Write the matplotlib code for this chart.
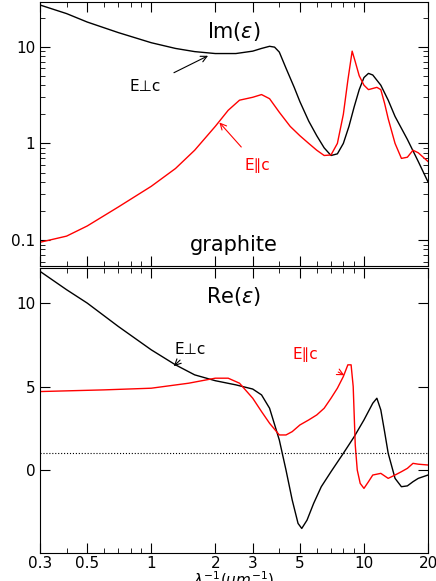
import numpy as np
import matplotlib.pyplot as plt
from matplotlib.ticker import FixedLocator, NullFormatter, FixedFormatter

# Im(eps)
im_perp_x = [0.3, 0.4, 0.5, 0.7, 1, 1.3, 1.6, 2, 2.5, 3, 3.3, 3.6, 3.8, 4.0, 4.3, 4.7, 5, 5.5, 6, 6.5, 7, 7.5, 8, 8.5, 9, 9.5, 10, 10.5, 11, 12, 13, 14, 16, 18, 20]
im_perp_y = [27, 22, 18, 14, 11, 9.6, 8.9, 8.5, 8.5, 9.0, 9.6, 10.1, 9.9, 8.8, 6.0, 3.8, 2.7, 1.7, 1.2, 0.9, 0.75, 0.78, 1.0, 1.5, 2.4, 3.6, 4.8, 5.3, 5.1, 4.0, 2.8, 1.9, 1.1, 0.65, 0.4]
im_par_x = [0.3, 0.4, 0.5, 0.7, 1, 1.3, 1.6, 2, 2.3, 2.6, 3, 3.3, 3.6, 4, 4.5, 5, 5.5, 6, 6.5, 7, 7.5, 8, 8.4, 8.8, 9.1, 9.5, 10, 10.5, 11.5, 12, 12.5, 13, 14, 15, 16, 17, 18, 20]
im_par_y = [0.095, 0.11, 0.14, 0.22, 0.36, 0.55, 0.85, 1.5, 2.2, 2.8, 3.0, 3.2, 2.9, 2.1, 1.5, 1.2, 1.0, 0.85, 0.75, 0.76, 1.0, 2.0, 4.5, 9.0, 7.0, 5.0, 4.0, 3.6, 3.8, 3.6, 2.6, 1.8, 1.0, 0.7, 0.72, 0.85, 0.8, 0.65]

# Re(eps)
re_perp_x = [0.3, 0.4, 0.5, 0.7, 1, 1.3, 1.6, 2, 2.5, 3, 3.3, 3.6, 4, 4.3, 4.6, 4.9, 5.1, 5.4, 5.8, 6.3, 7, 8, 9, 10, 11, 11.5, 12, 12.5, 13, 14, 15, 16, 17, 18, 20]
re_perp_y = [11.9, 10.8, 10, 8.6, 7.2, 6.3, 5.7, 5.35, 5.1, 4.85, 4.5, 3.7, 1.8, 0.0, -1.8, -3.2, -3.5, -3.0, -2.0, -1.0, -0.1, 1.0, 2.0, 3.0, 4.0, 4.3, 3.6, 2.3, 1.0, -0.5, -1.0, -0.95, -0.7, -0.5, -0.3]
re_par_x = [0.3, 0.6, 1, 1.5, 2, 2.3, 2.6, 3, 3.3, 3.6, 4, 4.3, 4.6, 5, 5.5, 6, 6.5, 7, 7.5, 8, 8.4, 8.7, 8.9, 9.1, 9.3, 9.6, 10, 10.5, 11, 12, 13, 14, 15, 16, 17, 18, 20]
re_par_y = [4.7, 4.8, 4.9, 5.2, 5.5, 5.5, 5.2, 4.3, 3.5, 2.8, 2.1, 2.1, 2.3, 2.7, 3.0, 3.3, 3.7, 4.3, 4.9, 5.6, 6.3, 6.3, 5.0, 1.5, 0.0, -0.8, -1.1, -0.7, -0.3, -0.2, -0.5, -0.3, -0.1, 0.1, 0.4, 0.35, 0.3]

xticks = [0.3, 0.5, 1, 2, 3, 5, 10, 20]
xlabels = ["0.3", "0.5", "1", "2", "3", "5", "10", "20"]

fig = plt.figure(figsize=(4.36, 5.81), dpi=100)
ax1 = fig.add_axes([40/436, 1 - 266/581, 388/436, 264/581])
ax2 = fig.add_axes([40/436, 1 - 553/581, 388/436, 285/581], sharex=ax1)

ax1.plot(im_perp_x, im_perp_y, c="black", lw=1)
ax1.plot(im_par_x, im_par_y, c="red", lw=1)
ax1.set_xscale("log")
ax1.set_yscale("log")
ax1.set_xlim(0.3, 20)
ax1.set_ylim(0.054, 29)
ax1.set_yticks([0.1, 1, 10])
ax1.set_yticklabels(["0.1", "1", "10"])
ax1.text(0.5, 0.93, r"Im($\epsilon$)", transform=ax1.transAxes, ha="center", va="top", fontsize=15)
ax1.text(0.5, 0.04, "graphite", transform=ax1.transAxes, ha="center", va="bottom", fontsize=15)
ax1.annotate("E⊥c", xy=(1.9, 8.3), xytext=(0.94, 3.85), fontsize=11, va="center", ha="center",
             arrowprops=dict(arrowstyle="->", color="black", lw=0.8, shrinkA=8))
ax1.annotate("E∥c", xy=(2.05, 1.73), xytext=(3.17, 0.59), color="red", fontsize=11, va="center", ha="center",
             arrowprops=dict(arrowstyle="->", color="red", lw=0.8, shrinkA=8))

ax2.plot(re_perp_x, re_perp_y, c="black", lw=1)
ax2.plot(re_par_x, re_par_y, c="red", lw=1)
ax2.axhline(1, c="black", ls=":", lw=0.8)
ax2.set_ylim(-4.97, 12.1)
ax2.set_yticks([0, 5, 10])
ax2.text(0.5, 0.94, r"Re($\epsilon$)", transform=ax2.transAxes, ha="center", va="top", fontsize=15)
ax2.annotate("E⊥c", xy=(1.25, 6.1), xytext=(1.53, 7.2), fontsize=11, va="center", ha="center",
             arrowprops=dict(arrowstyle="->", color="black", lw=0.8, shrinkA=10))
ax2.annotate("E∥c", xy=(8.3, 5.6), xytext=(5.3, 6.9), color="red", fontsize=11, va="center", ha="center",
             arrowprops=dict(arrowstyle="->", color="red", lw=0.8, shrinkA=14))
ax2.set_xlabel(r"$\lambda^{-1}(\mu m^{-1})$", fontsize=11, labelpad=-1)

for ax in (ax1, ax2):
    ax.tick_params(which="both", direction="in", top=True, right=True, labelsize=11)
    ax.tick_params(which="major", length=7)
    ax.tick_params(which="minor", length=3.5)
ax2.tick_params(axis="x", pad=2)
ax2.xaxis.set_major_locator(FixedLocator(xticks))
ax2.xaxis.set_major_formatter(FixedFormatter(xlabels))
ax2.xaxis.set_minor_formatter(NullFormatter())
plt.setp(ax1.get_xticklabels(), visible=False)

fig.savefig("out.png", dpi=100)
